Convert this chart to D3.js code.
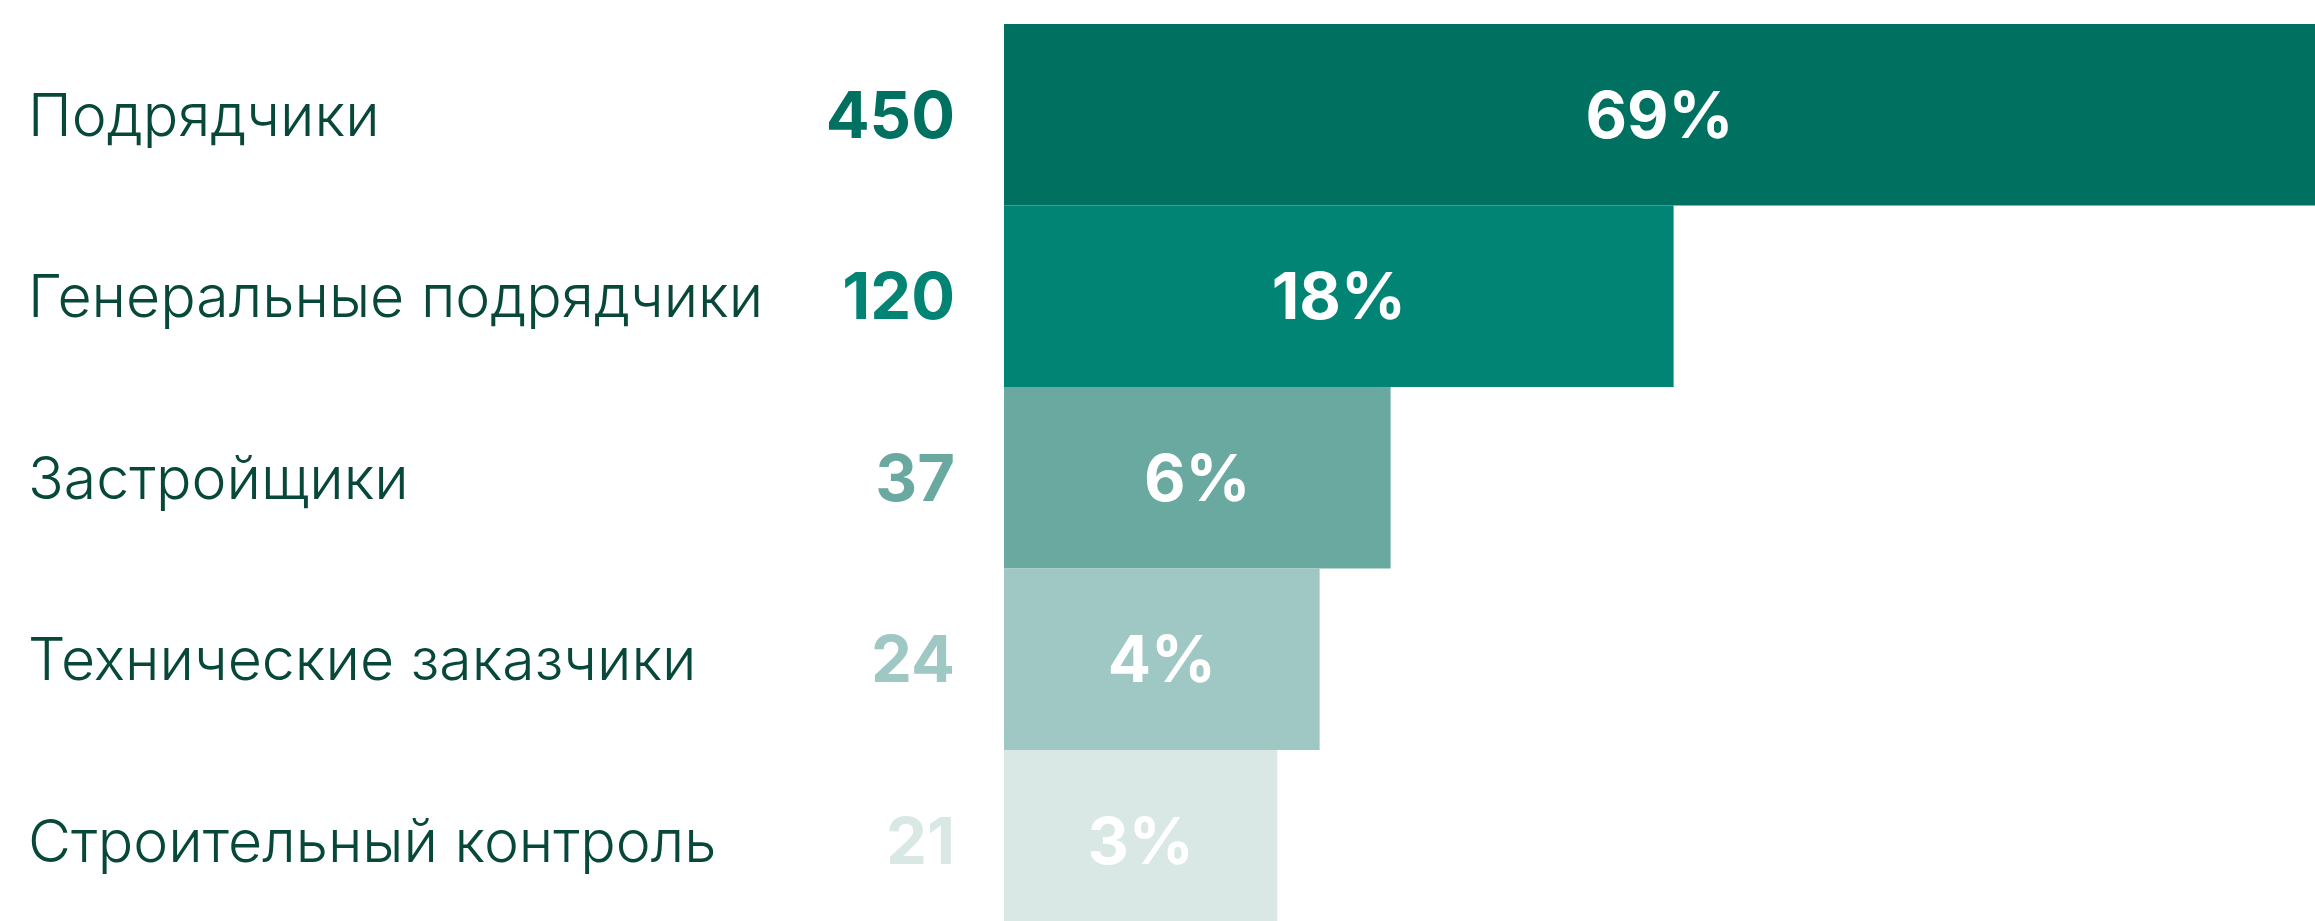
<!DOCTYPE html>
<html>
<head>
<meta charset="utf-8">
<script src="https://cdn.jsdelivr.net/npm/d3@7"></script>
<style>
  html, body { margin: 0; padding: 0; background: #ffffff; overflow: hidden; }
  svg { display: block; font-family: Inter, "Noto Sans", sans-serif; }
</style>
</head>
<body>
<div id="chart"></div>
<script>
var categories = ["Подрядчики", "Генеральные подрядчики", "Застройщики", "Технические заказчики", "Строительный контроль"];
var counts = [450, 120, 37, 24, 21];
var percents = [69, 18, 6, 4, 3];
var colors = ["#007161", "#018474", "#69a9a0", "#9fc8c5", "#d9e8e5"];

var width = 2315;
var height = 921;
var barLeft = 1004;
var rowStep = 181.5;

var dataset = categories.map(function(c, i) {
  return { name: c, count: counts[i], pct: percents[i], color: colors[i] };
});

var svg = d3.select("#chart")
  .append("svg")
  .attr("width", width)
  .attr("height", height);

var y = d3.scaleBand()
  .domain(categories)
  .range([24, 24 + rowStep * categories.length])
  .padding(0);

// bar length follows the square root of the share
var x = d3.scaleSqrt()
  .domain([0, d3.max(percents)])
  .range([0, width - barLeft]);

var rows = svg.selectAll("g.row")
  .data(dataset)
  .enter()
  .append("g")
  .attr("class", "row")
  .attr("transform", function(d) { return "translate(0," + y(d.name) + ")"; });

rows.append("rect")
  .attr("x", barLeft)
  .attr("y", 0)
  .attr("width", function(d) { return x(d.pct); })
  .attr("height", y.bandwidth())
  .attr("fill", function(d) { return d.color; });

var mid = y.bandwidth() / 2;

rows.append("text")
  .attr("x", 28)
  .attr("y", mid + 21)
  .attr("fill", "#08483a")
  .style("font-size", "59px")
  .style("font-weight", 300)
  .text(function(d) { return d.name; });

rows.append("text")
  .attr("x", 955)
  .attr("y", mid + 23)
  .attr("text-anchor", "end")
  .attr("fill", function(d) { return d.color; })
  .style("font-size", "65px")
  .style("font-weight", 700)
  .text(function(d) { return d.count; });

rows.append("text")
  .attr("x", function(d) { return barLeft + x(d.pct) / 2; })
  .attr("y", mid + 23)
  .attr("text-anchor", "middle")
  .attr("fill", "#ffffff")
  .style("font-size", "64px")
  .style("font-weight", 700)
  .text(function(d) { return d.pct + "%"; });
</script>
</body>
</html>
